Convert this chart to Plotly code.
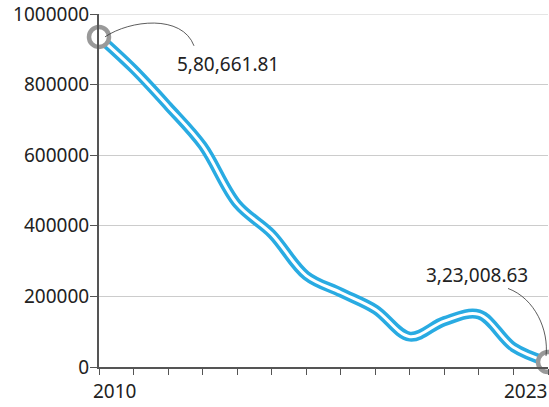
import plotly.graph_objects as go

# Yearly series
years = list(range(2010, 2024))
values = [935000, 844000, 739000, 627000, 462000, 377000, 259000,
          211000, 163000, 86000, 130000, 149000, 56000, 14000]

# Labels attached to the first and last points
start_label = "5,80,661.81"
end_label = "3,23,008.63"
y_ticks = [0, 200000, 400000, 600000, 800000, 1000000]

W, H = 549, 407
ML, MR, MT, MB = 99, 1, 12, 40
PW, PH = W - ML - MR, H - MT - MB

def px(x):
    return (x - ML) / PW

def py(y):
    return (H - MB - y) / PH

BLUE = "#29abe2"
GREY = "#999999"
TEXT = "#222222"
FONT = "Noto Sans"

fig = go.Figure()

# Thick blue band with a thin white line running through it
fig.add_trace(go.Scatter(x=years, y=values, mode="lines",
                         line=dict(color=BLUE, width=10, shape="spline", smoothing=1),
                         hoverinfo="skip", showlegend=False, cliponaxis=False))
fig.add_trace(go.Scatter(x=years, y=values, mode="lines",
                         line=dict(color="white", width=3, shape="spline", smoothing=1),
                         showlegend=False, cliponaxis=False))

# Open rings on the endpoints
fig.add_trace(go.Scatter(x=[years[0], years[-1]], y=[values[0], values[-1]], mode="markers",
                         marker=dict(size=20, color="white", line=dict(color=GREY, width=4.5)),
                         showlegend=False, cliponaxis=False))

# Curved leader lines to the labels
def cpath(pts):
    (x0, y0), (x1, y1), (x2, y2), (x3, y3) = pts
    return (f"M {px(x0)},{py(y0)} C {px(x1)},{py(y1)} {px(x2)},{py(y2)} {px(x3)},{py(y3)}")

shapes = [
    # top gridline at the upper end of the value axis
    dict(type="line", xref="paper", yref="y", x0=0, x1=1,
         y0=y_ticks[-1], y1=y_ticks[-1], layer="below",
         line=dict(color="#cccccc", width=1)),
    dict(type="path", xref="paper", yref="paper",
         path=cpath([(105, 35), (130, 18), (182, 12), (194, 44)]),
         line=dict(color="#333333", width=0.8)),
    dict(type="path", xref="paper", yref="paper",
         path=cpath([(508, 288), (535, 298), (549, 330), (546, 356)]),
         line=dict(color="#333333", width=0.8)),
]

annotations = [
    dict(x=px(175), y=py(62), xref="paper", yref="paper", text=start_label,
         showarrow=False, xanchor="left", yanchor="middle",
         font=dict(family=FONT, size=19, color=TEXT)),
    dict(x=px(424), y=py(274), xref="paper", yref="paper", text=end_label,
         showarrow=False, xanchor="left", yanchor="middle",
         font=dict(family=FONT, size=19, color=TEXT)),
    dict(x=px(91), y=py(391), xref="paper", yref="paper", text=str(years[0]),
         showarrow=False, xanchor="left", yanchor="middle",
         font=dict(family=FONT, size=19, color=TEXT)),
    dict(x=px(549), y=py(391), xref="paper", yref="paper", text=str(years[-1]),
         showarrow=False, xanchor="right", yanchor="middle",
         font=dict(family=FONT, size=19, color=TEXT)),
]

fig.update_layout(
    width=W, height=H,
    margin=dict(l=ML, r=MR, t=MT, b=MB, pad=0),
    paper_bgcolor="white", plot_bgcolor="white",
    shapes=shapes, annotations=annotations,
    xaxis=dict(range=[2010, 2023], tickvals=years, ticktext=[""] * len(years),
               ticks="outside", ticklen=6, tickwidth=1, tickcolor="#555555",
               showline=True, linecolor="#555555", linewidth=2,
               showgrid=False, zeroline=False, fixedrange=True),
    yaxis=dict(range=[0, 1000000], tickvals=y_ticks, ticktext=[str(v) for v in y_ticks],
               ticks="outside", ticklen=7, tickwidth=1, tickcolor="#555555",
               showline=True, linecolor="#555555", linewidth=2,
               showgrid=True, gridcolor="#cccccc", gridwidth=1,
               zeroline=False, fixedrange=True, ticklabeloverflow="allow",
               ticklabelstandoff=-3,
               tickfont=dict(family=FONT, size=19, color=TEXT)),
)

fig.write_html("out.html")
